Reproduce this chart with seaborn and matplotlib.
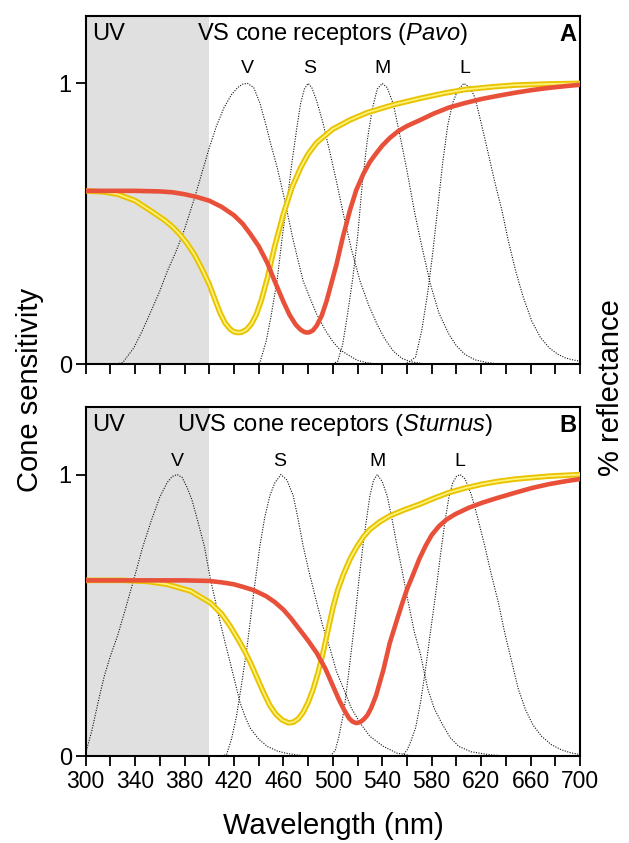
import matplotlib
matplotlib.use("Agg")
import matplotlib.pyplot as plt
import seaborn as sns

sns.set_style("white")
plt.rcParams['font.family'] = ['Liberation Sans', 'DejaVu Sans']
plt.rcParams['mathtext.fontset'] = 'custom'
plt.rcParams['mathtext.rm'] = 'Liberation Sans'
plt.rcParams['mathtext.it'] = 'Liberation Sans:italic'
plt.rcParams['text.color'] = 'black'
plt.rcParams['axes.labelcolor'] = 'black'
plt.rcParams['xtick.color'] = 'black'
plt.rcParams['ytick.color'] = 'black'

# ---------------- Panel A (VS, Pavo) ----------------
a_v_wl = [325, 330, 339, 346, 353, 360, 366, 373, 380, 388, 394, 400, 406, 412, 418, 423, 427, 431,
          436, 441, 446, 450, 455, 460, 468, 476, 482, 487, 494, 500, 506, 514, 520, 527, 535]
a_v = [0.0, 0.005, 0.058, 0.12, 0.189, 0.26, 0.33, 0.40, 0.48, 0.59, 0.68, 0.77, 0.85, 0.914, 0.96, 0.985, 0.997, 1.0,
       0.985, 0.93, 0.85, 0.78, 0.70, 0.605, 0.44, 0.296, 0.23, 0.177, 0.12, 0.08, 0.05, 0.028, 0.013, 0.005, 0.0]

a_s_wl = [438, 441, 446, 450, 455, 459, 463, 467, 471, 474, 477, 480, 483, 487, 492, 498, 503, 508, 515,
          522, 529, 536, 542, 549, 556, 563, 575]
a_s = [0.0, 0.005, 0.08, 0.17, 0.30, 0.45, 0.58, 0.72, 0.845, 0.93, 0.98, 1.0, 0.985, 0.937, 0.86, 0.748, 0.65,
       0.545, 0.41, 0.296, 0.21, 0.14, 0.09, 0.046, 0.02, 0.008, 0.0]

a_m_wl = [500, 504, 508, 512, 516, 520, 524, 528, 532, 536, 540, 544, 549, 555, 560, 566, 572, 579, 586,
          594, 600, 607, 615, 625, 635]
a_m = [0.0, 0.01, 0.07, 0.18, 0.30, 0.45, 0.65, 0.80, 0.91, 0.98, 1.0, 0.985, 0.926, 0.80, 0.69, 0.545, 0.42,
       0.284, 0.18, 0.106, 0.065, 0.034, 0.015, 0.005, 0.0]

a_l_wl = [558, 562, 567, 572, 577, 581, 585, 589, 593, 597, 601, 606, 611, 615, 620, 626, 631, 637, 642,
          648, 654, 661, 668, 675, 682, 688, 694, 700]
a_l = [0.0, 0.008, 0.025, 0.12, 0.26, 0.40, 0.56, 0.72, 0.85, 0.93, 0.975, 1.0, 0.985, 0.95, 0.86, 0.747,
       0.65, 0.545, 0.44, 0.331, 0.24, 0.153, 0.095, 0.058, 0.035, 0.022, 0.015, 0.01]

a_red_wl = [300, 340, 360, 370, 380, 390, 400, 410, 420, 427, 433, 440, 447, 453, 460, 465, 470, 474, 477,
            479, 481, 484, 487, 491, 495, 499, 503, 508, 514, 519, 525, 530, 535, 540, 546, 553, 560, 571,
            582, 594, 607, 620, 634, 648, 661, 675, 688, 700]
a_red = [0.617, 0.617, 0.615, 0.612, 0.605, 0.595, 0.582, 0.56, 0.53, 0.50, 0.465, 0.42, 0.36, 0.295, 0.222,
         0.175, 0.14, 0.122, 0.114, 0.112, 0.113, 0.12, 0.137, 0.172, 0.225, 0.29, 0.355, 0.45, 0.55, 0.62,
         0.68, 0.72, 0.75, 0.778, 0.805, 0.83, 0.848, 0.87, 0.893, 0.914, 0.93, 0.944, 0.956, 0.967, 0.976,
         0.984, 0.99, 0.995]

a_yel_wl = [300, 315, 326, 340, 353, 364, 370, 376, 382, 388, 394, 400, 405, 409, 413, 417, 420, 423, 426,
            430, 434, 438, 442, 447, 453, 460, 467, 474, 480, 487, 494, 500, 514, 528, 550, 571, 590, 607,
            630, 648, 675, 700]
a_yel = [0.617, 0.613, 0.605, 0.582, 0.545, 0.512, 0.49, 0.463, 0.43, 0.39, 0.34, 0.284, 0.225, 0.18, 0.145,
         0.124, 0.115, 0.112, 0.113, 0.122, 0.142, 0.175, 0.225, 0.305, 0.42, 0.534, 0.63, 0.70, 0.748,
         0.789, 0.815, 0.837, 0.87, 0.896, 0.925, 0.947, 0.965, 0.978, 0.988, 0.994, 0.998, 1.0]

# ---------------- Panel B (UVS, Sturnus) ----------------
b_v_wl = [300, 305, 310, 315, 320, 326, 332, 339, 346, 353, 360, 366, 370, 374, 378, 382, 386, 391, 396,
          401, 405, 409, 413, 417, 421, 425, 429, 433, 440, 447, 455, 462, 470, 480]
b_v = [0.01, 0.09, 0.19, 0.283, 0.355, 0.43, 0.52, 0.628, 0.74, 0.835, 0.92, 0.972, 0.993, 1.0, 0.99, 0.955,
       0.91, 0.83, 0.746, 0.628, 0.55, 0.473, 0.40, 0.331, 0.26, 0.189, 0.14, 0.10, 0.06, 0.034, 0.018, 0.01,
       0.004, 0.0]

b_s_wl = [410, 414, 418, 422, 426, 431, 436, 441, 445, 449, 453, 458, 463, 468, 472, 476, 481, 487, 492,
          498, 503, 509, 515, 522, 530, 541, 552, 565]
b_s = [0.0, 0.005, 0.06, 0.14, 0.25, 0.40, 0.58, 0.746, 0.85, 0.924, 0.97, 1.0, 0.98, 0.924, 0.84, 0.746,
       0.65, 0.545, 0.46, 0.378, 0.30, 0.236, 0.17, 0.118, 0.07, 0.034, 0.01, 0.0]

b_m_wl = [498, 502, 505, 509, 513, 517, 521, 525, 530, 533, 536, 540, 544, 548, 552, 556, 560, 566, 571,
          577, 582, 588, 595, 602, 612, 626, 640]
b_m = [0.0, 0.02, 0.07, 0.16, 0.30, 0.45, 0.62, 0.77, 0.924, 0.98, 1.0, 0.975, 0.924, 0.84, 0.746, 0.66,
       0.569, 0.44, 0.36, 0.236, 0.17, 0.118, 0.065, 0.034, 0.015, 0.005, 0.0]

b_l_wl = [556, 560, 563, 567, 571, 575, 579, 583, 587, 591, 594, 597, 600, 603, 607, 612, 617, 623, 628,
          634, 639, 645, 650, 656, 662, 669, 677, 685, 692, 700]
b_l = [0.0, 0.02, 0.05, 0.10, 0.19, 0.307, 0.44, 0.568, 0.71, 0.84, 0.92, 0.97, 0.993, 1.0, 0.985, 0.93,
       0.85, 0.746, 0.65, 0.545, 0.44, 0.331, 0.24, 0.164, 0.11, 0.07, 0.04, 0.022, 0.012, 0.005]

b_red_wl = [300, 340, 380, 400, 410, 420, 428, 436, 446, 453, 460, 466, 473, 480, 487, 494, 500, 505, 509,
            513, 516, 519, 522, 525, 528, 531, 535, 541, 546, 552, 556, 560, 565, 570, 575, 580, 586, 592,
            599, 610, 621, 634, 648, 661, 675, 688, 700]
b_red = [0.624, 0.624, 0.624, 0.622, 0.617, 0.61, 0.60, 0.589, 0.568, 0.547, 0.52, 0.49, 0.45, 0.41, 0.366,
         0.31, 0.25, 0.20, 0.165, 0.135, 0.122, 0.117, 0.12, 0.13, 0.145, 0.17, 0.215, 0.307, 0.40, 0.485,
         0.54, 0.592, 0.645, 0.70, 0.746, 0.785, 0.817, 0.84, 0.859, 0.882, 0.90, 0.918, 0.936, 0.952, 0.966,
         0.976, 0.984]

b_yel_wl = [300, 330, 350, 366, 385, 401, 410, 417, 424, 429, 434, 439, 444, 449, 454, 459, 464, 468, 472,
            476, 480, 484, 488, 492, 496, 500, 504, 509, 514, 519, 525, 530, 538, 546, 558, 570, 582, 594,
            607, 621, 634, 648, 674, 700]
b_yel = [0.624, 0.624, 0.62, 0.61, 0.586, 0.544, 0.505, 0.461, 0.41, 0.37, 0.325, 0.275, 0.225, 0.18, 0.148,
         0.128, 0.118, 0.12, 0.132, 0.155, 0.19, 0.236, 0.295, 0.365, 0.445, 0.525, 0.59, 0.65, 0.70, 0.74,
         0.78, 0.805, 0.832, 0.853, 0.875, 0.894, 0.916, 0.936, 0.952, 0.966, 0.976, 0.984, 0.994, 1.0]

cone_labels = ["V", "S", "M", "L"]
a_peaks = [431, 481, 540, 607]
b_peaks = [374, 457, 536, 603]
titles = [r"VS cone receptors ($\it{Pavo}$)", r"UVS cone receptors ($\it{Sturnus}$)"]
panel_letters = ["A", "B"]
xtick_vals = list(range(300, 701, 20))
xtick_labels = [str(v) if (v - 300) % 40 == 0 else "" for v in xtick_vals]

fig = plt.figure(figsize=(6.29, 8.43), dpi=100)
ax_a = fig.add_axes([0.1362, 0.5682, 0.7858, 0.4128])
ax_b = fig.add_axes([0.1362, 0.1032, 0.7858, 0.4140])

panels = [
    (ax_a, [(a_v_wl, a_v), (a_s_wl, a_s), (a_m_wl, a_m), (a_l_wl, a_l)], (a_red_wl, a_red), (a_yel_wl, a_yel), a_peaks, 1.052, 500),
    (ax_b, [(b_v_wl, b_v), (b_s_wl, b_s), (b_m_wl, b_m), (b_l_wl, b_l)], (b_red_wl, b_red), (b_yel_wl, b_yel), b_peaks, 1.046, 502),
]

for i, (ax, cones, red, yel, peaks, lab_y, title_x) in enumerate(panels):
    ax.axvspan(300, 400, color="#e0e0e0", lw=0, zorder=0)
    for wl, val in cones:
        sns.lineplot(x=wl, y=val, ax=ax, color="#111111", lw=0.8, linestyle=(0, (1, 1.3)),
                     errorbar=None, zorder=2)
    sns.lineplot(x=yel[0], y=yel[1], ax=ax, color="#e8c300", lw=4.0, errorbar=None, zorder=3,
                 solid_joinstyle="round", solid_capstyle="round")
    sns.lineplot(x=yel[0], y=yel[1], ax=ax, color="#fff27a", lw=1.3, errorbar=None, zorder=3,
                 solid_joinstyle="round")
    sns.lineplot(x=red[0], y=red[1], ax=ax, color="#e8503a", lw=3.3, errorbar=None, zorder=4,
                 solid_joinstyle="round")

    for lab, pk in zip(cone_labels, peaks):
        ax.text(pk, lab_y, lab, ha="center", va="center", fontsize=14, color="black")
    ax.text(305, 1.175, "UV", ha="left", va="center", fontsize=17, color="black")
    ax.text(title_x, 1.175, titles[i], ha="center", va="center", fontsize=17, color="black")
    ax.text(697, 1.175, panel_letters[i], ha="right", va="center", fontsize=17, fontweight="bold",
            color="black")

    ax.set_xlim(300, 700)
    ax.set_ylim(0, 1.24)
    ax.set_yticks([0, 1])
    ax.set_yticklabels(["0", "1"], fontsize=17)
    ax.set_xticks(xtick_vals)
    if i == 1:
        ax.set_xticklabels(xtick_labels, fontsize=16.5)
    else:
        ax.set_xticklabels([])
    ax.tick_params(axis="both", direction="out", length=7, width=1.3, color="black",
                   labelcolor="black", pad=3)
    ax.tick_params(axis="x", bottom=True)
    ax.tick_params(axis="y", left=True)
    ax.set_xlabel("")
    ax.set_ylabel("")
    for sp in ax.spines.values():
        sp.set_visible(True)
        sp.set_linewidth(1.5)
        sp.set_color("black")
    ax.grid(False)

fig.text(0.048, 0.537, "Cone sensitivity", rotation=90, ha="center", va="center", fontsize=21, color="black")
fig.text(0.972, 0.54, "% reflectance", rotation=90, ha="center", va="center", fontsize=21, color="black")
fig.text(0.53, 0.02, "Wavelength (nm)", ha="center", va="center", fontsize=21, color="black")

fig.savefig("out.png", dpi=100)
